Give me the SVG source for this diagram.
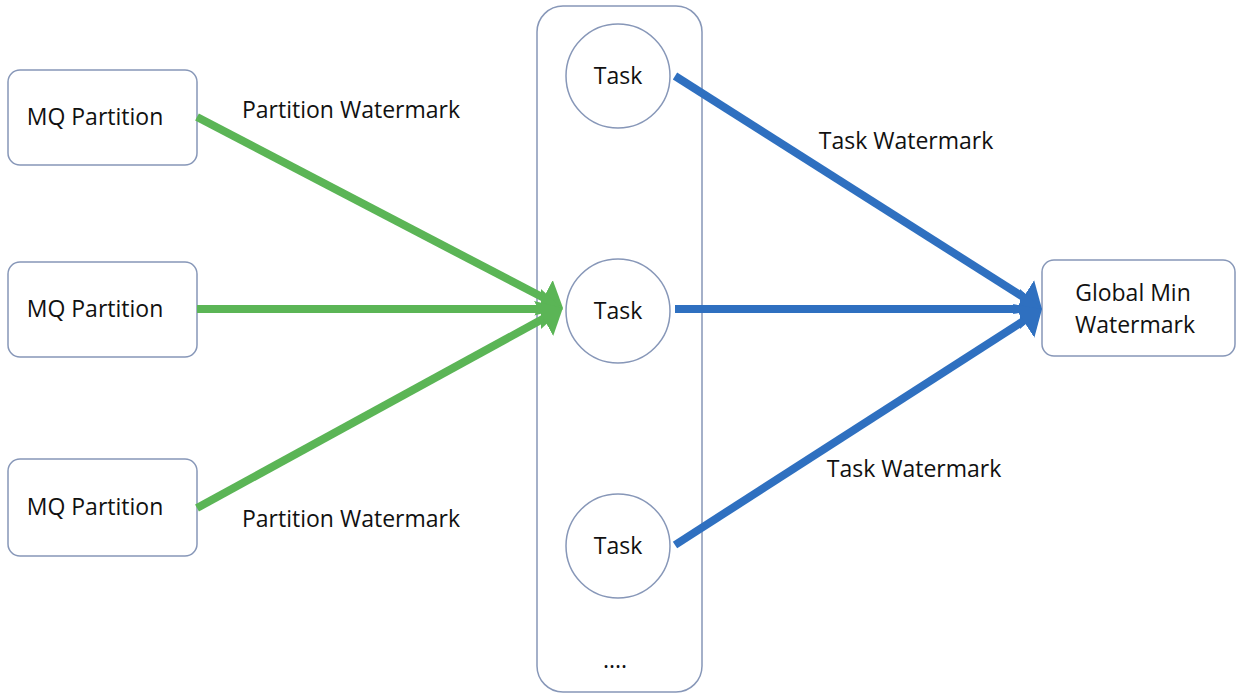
<svg xmlns="http://www.w3.org/2000/svg" width="1240" height="698" viewBox="0 0 1240 698">
<defs>
<style>
.box{fill:#fff;stroke:#8797b8;stroke-width:1.5}
.t{font-family:"Open Sans","Liberation Sans",sans-serif;font-size:23px;fill:#111}
.g{stroke:#5bb556;stroke-width:8;fill:none}
.b{stroke:#2f70c0;stroke-width:8;fill:none}
</style>
<marker id="ag" markerUnits="userSpaceOnUse" markerWidth="24" markerHeight="42" viewBox="0 0 24 42" refX="0" refY="21" orient="auto"><path d="M0,1 L22,21 L0,41 z" fill="#5bb556"/></marker>
<marker id="ab" markerUnits="userSpaceOnUse" markerWidth="24" markerHeight="42" viewBox="0 0 24 42" refX="0" refY="21" orient="auto"><path d="M0,1 L22,21 L0,41 z" fill="#2f70c0"/></marker>
</defs>
<rect width="1240" height="698" fill="#fff"/>
<g id="container"><rect class="box" x="537" y="6" width="165" height="686" rx="26"/><text class="t" x="615" y="668" text-anchor="middle">....</text></g>
<g id="mq1"><rect class="box" x="8" y="70" width="189" height="95" rx="12"/><text class="t" x="95" y="125" text-anchor="middle">MQ Partition</text></g>
<g id="mq2"><rect class="box" x="8" y="262" width="189" height="95" rx="12"/><text class="t" x="95" y="317" text-anchor="middle">MQ Partition</text></g>
<g id="mq3"><rect class="box" x="8" y="459" width="189" height="97" rx="12"/><text class="t" x="95" y="515" text-anchor="middle">MQ Partition</text></g>
<g id="task1"><circle class="box" cx="618" cy="76" r="52"/><text class="t" x="618" y="84" text-anchor="middle">Task</text></g>
<g id="task2"><circle class="box" cx="618" cy="311" r="52"/><text class="t" x="618" y="319" text-anchor="middle">Task</text></g>
<g id="task3"><circle class="box" cx="618" cy="546" r="52"/><text class="t" x="618" y="554" text-anchor="middle">Task</text></g>
<g id="global"><rect class="box" x="1042" y="260" width="193" height="96" rx="12"/><text class="t" x="1133" y="301" text-anchor="middle">Global Min</text><text class="t" x="1135" y="333" text-anchor="middle">Watermark</text></g>
<g id="connectors">
<line class="g" x1="197" y1="117" x2="543.5" y2="297.8" marker-end="url(#ag)"/>
<line class="g" x1="197" y1="309" x2="541" y2="309" marker-end="url(#ag)"/>
<line class="g" x1="197" y1="508" x2="543.6" y2="318.5" marker-end="url(#ag)"/>
<line class="b" x1="675" y1="76" x2="1023.4" y2="297.2" marker-end="url(#ab)"/>
<line class="b" x1="675" y1="309" x2="1020" y2="309" marker-end="url(#ab)"/>
<line class="b" x1="675" y1="545" x2="1023.5" y2="320.9" marker-end="url(#ab)"/>
</g>
<g id="labels">
<text class="t" x="351" y="118" text-anchor="middle">Partition Watermark</text>
<text class="t" x="906" y="149" text-anchor="middle">Task Watermark</text>
<text class="t" x="914" y="477" text-anchor="middle">Task Watermark</text>
<text class="t" x="351" y="527" text-anchor="middle">Partition Watermark</text>
</g>
</svg>
